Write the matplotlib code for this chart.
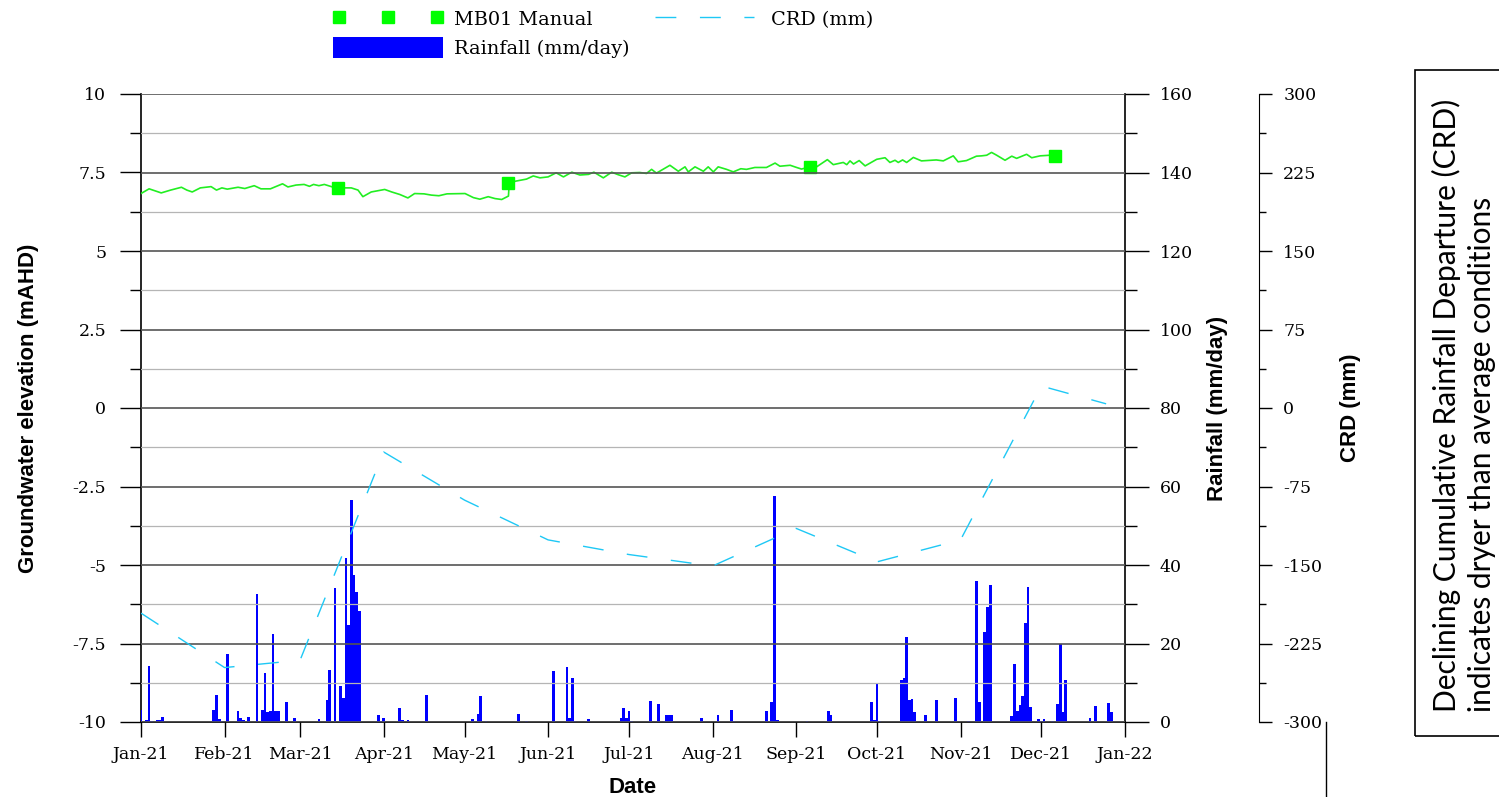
import numpy as np
import pandas as pd
import matplotlib
matplotlib.use('Agg')
import matplotlib.pyplot as plt
import matplotlib.dates as mdates
from matplotlib.ticker import MultipleLocator, FuncFormatter
from matplotlib.patches import Rectangle
from matplotlib.lines import Line2D

plt.rcParams['font.family'] = 'DejaVu Serif'
plt.rcParams['axes.unicode_minus'] = False

base = pd.Timestamp('2021-01-01')

# groundwater logger (day of year offset, mAHD)
gw_day = [0, 3, 7.5, 11, 15, 17, 19, 22, 26, 28, 30, 32, 36, 38.5, 42, 44.5, 48,
          52.5, 54.5, 57.5, 60.5, 62.5, 64, 66, 68, 71, 73.7, 78, 80.5, 82.3, 85.4,
          90.4, 93, 96, 99, 101.5, 105, 107.7, 110.5, 113.5, 120.2, 123.3, 125.7,
          128.8, 131.3, 133.8, 136.3, 136.6, 139.3, 143, 145.5, 148, 151, 154, 156.7,
          159.8, 162.8, 166, 168, 171.5, 174.6, 177, 179.5, 182, 185, 187.5, 189.4,
          191.2, 196.2, 199.3, 201.8, 203, 205.5, 208.6, 210.4, 212.3, 214.1, 217.2,
          219.7, 222.5, 224.6, 227.7, 232, 235.2, 237, 240.8, 243.2, 245, 248.3,
          250.6, 254.6, 256.8, 260.5, 261.8, 263, 264.3, 266.4, 268.6, 272.9, 276,
          277.8, 279.7, 280.9, 282.5, 284, 286.5, 289.5, 295, 297.6, 301.3, 303.1,
          306.2, 309.9, 311.8, 313.7, 315.5, 317.4, 320.5, 323, 324.8, 328.5, 330.4,
          333.5, 337.2]
gw_level = [6.83, 6.98, 6.85, 6.94, 7.03, 6.94, 6.88, 7.01, 7.05, 6.94, 7.01, 6.97,
            7.03, 6.99, 7.08, 6.98, 6.98, 7.14, 7.04, 7.10, 7.12, 7.06, 7.12, 7.08,
            7.12, 7.04, 7.01, 7.01, 6.94, 6.73, 6.88, 6.96, 6.88, 6.80, 6.69, 6.83,
            6.82, 6.78, 6.76, 6.82, 6.83, 6.70, 6.65, 6.73, 6.67, 6.64, 6.75, 7.18,
            7.23, 7.29, 7.39, 7.33, 7.36, 7.49, 7.36, 7.51, 7.42, 7.44, 7.51, 7.33,
            7.51, 7.43, 7.36, 7.49, 7.50, 7.47, 7.60, 7.48, 7.73, 7.54, 7.68, 7.52,
            7.68, 7.54, 7.68, 7.52, 7.68, 7.60, 7.52, 7.62, 7.60, 7.66, 7.66, 7.80,
            7.70, 7.73, 7.66, 7.61, 7.68, 7.68, 7.91, 7.75, 7.82, 7.75, 7.87, 7.77,
            7.88, 7.71, 7.92, 7.97, 7.82, 7.89, 7.82, 7.90, 7.82, 7.98, 7.87, 7.90,
            7.87, 8.03, 7.84, 7.88, 8.02, 8.03, 8.05, 8.14, 8.05, 7.89, 8.02, 7.95,
            8.08, 7.97, 8.03, 8.05]

# manual readings
man_date = ['2021-03-15', '2021-05-17', '2021-09-06', '2021-12-06']
man_level = [7.01, 7.18, 7.68, 8.02]

# daily rainfall (day of year offset, mm/day)
rain_day = [0, 2, 3, 4, 6, 7, 8, 27, 28, 29, 30, 32, 36, 37, 38, 40, 43, 45, 46, 47,
            48, 49, 50, 51, 54, 57, 66, 69, 70, 72, 74, 75, 76, 77, 78, 79, 80, 81,
            88, 89, 90, 96, 97, 99, 106, 123, 125, 126, 128, 140, 143, 153, 158, 159,
            160, 161, 166, 178, 179, 180, 181, 182, 189, 192, 194, 195, 196, 197, 208,
            214, 219, 220, 232, 234, 235, 236, 247, 255, 256, 271, 272, 273, 274, 282,
            283, 284, 285, 286, 287, 291, 295, 302, 307, 310, 311, 313, 314, 315, 323,
            324, 325, 326, 327, 328, 329, 330, 333, 334, 335, 338, 340, 341, 342, 343,
            352, 354, 359, 360]
rain_mm = [3.0, 0.4, 14.2, 0.3, 0.4, 0.4, 1.4, 3.0, 7.0, 0.8, 0.3, 17.2, 2.7, 1.0,
           0.4, 1.4, 32.5, 3.0, 12.5, 2.5, 2.8, 22.3, 2.8, 2.8, 5.0, 0.9, 0.7, 5.5,
           13.2, 34.1, 9.1, 6.0, 41.7, 24.6, 56.6, 37.4, 33.0, 28.2, 1.7, 0.3, 0.9,
           3.5, 0.4, 0.4, 7.0, 0.85, 2.1, 6.7, 0.3, 2.1, 0.3, 13.1, 14.1, 1.1, 11.3,
           0.3, 0.85, 1.1, 3.65, 1.1, 2.9, 0.3, 5.4, 4.7, 0.3, 1.9, 1.9, 1.9, 1.1,
           1.9, 3.1, 0.3, 2.9, 5.2, 57.6, 0.6, 0.3, 2.9, 1.9, 5.2, 0.6, 9.8, 0.3,
           10.8, 11.3, 21.7, 5.7, 5.9, 2.6, 1.9, 5.7, 6.2, 0.3, 35.8, 5.2, 23.0, 29.4,
           35.0, 1.6, 14.9, 2.9, 4.4, 6.7, 25.1, 34.5, 3.9, 0.85, 0.3, 0.85, 0.3, 4.7,
           20.0, 2.6, 10.8, 1.1, 4.2, 4.9, 2.6]

# cumulative rainfall departure
crd_date = ['2021-01-01', '2021-02-01', '2021-03-01', '2021-04-01', '2021-05-01',
            '2021-06-01', '2021-07-01', '2021-08-01', '2021-09-01', '2021-10-01',
            '2021-11-01', '2021-12-01', '2021-12-25']
crd_mm = [-196, -248, -241, -42, -88, -126, -140, -151, -115, -147, -126, 21, 4]

gw_dates = base + pd.to_timedelta(gw_day, unit='D')
rain_dates = base + pd.to_timedelta(rain_day, unit='D')

W, H = 1499, 797
fig = plt.figure(figsize=(W / 100, H / 100), dpi=100)
ax = fig.add_axes([141 / W, 75 / H, 984 / W, 628 / H])

lab_font = dict(family='Liberation Sans', weight='bold', size=16)

# groundwater
ax.plot(gw_dates, gw_level, color='#22ee22', lw=1.2, zorder=3)
man, = ax.plot(pd.to_datetime(man_date), man_level, 's', color='#00ff00',
               ms=8.6, zorder=4, label='MB01 Manual')
ax.set_ylim(-10, 10)
ax.yaxis.set_major_locator(MultipleLocator(2.5))
ax.yaxis.set_minor_locator(MultipleLocator(1.25))
ax.yaxis.set_major_formatter(FuncFormatter(lambda v, p: '{:g}'.format(v)))
ax.set_xlim(base, pd.Timestamp('2022-01-01'))
ax.xaxis.set_major_locator(mdates.MonthLocator())
ax.xaxis.set_major_formatter(mdates.DateFormatter('%b-%y'))
ax.tick_params(axis='y', which='major', length=15, width=1, pad=10, labelsize=12.5)
ax.tick_params(axis='y', which='minor', length=8, width=1)
ax.tick_params(axis='x', length=11, width=1, pad=6.5, labelsize=12.5)
ax.spines['top'].set_visible(False)
ax.spines['right'].set_visible(False)
ax.spines['left'].set_linewidth(1.2)
ax.spines['bottom'].set_linewidth(1.2)
ax.set_ylabel('Groundwater elevation (mAHD)', fontdict=lab_font)
ax.yaxis.set_label_coords(-0.1037, 0.5)
ax.set_xlabel('Date', fontdict=lab_font)
ax.xaxis.set_label_coords(0.5, -0.0870)

# rainfall
ax2 = ax.twinx()
bars = ax2.bar(rain_dates, rain_mm, width=1.0, color='#0000ff', lw=0,
               label='Rainfall (mm/day)')
ax2.set_ylim(0, 160)
ax2.yaxis.set_major_locator(MultipleLocator(20))
ax2.yaxis.set_minor_locator(MultipleLocator(10))
ax2.set_axisbelow(False)
ax2.grid(which='major', axis='y', color='#555555', lw=1.2)
ax2.grid(which='minor', axis='y', color='#b5b5b5', lw=0.9)
ax2.tick_params(axis='y', which='major', length=17, width=1, pad=8, labelsize=12.5)
ax2.tick_params(axis='y', which='minor', length=8.6, width=1)
for s in ['top', 'left', 'bottom']:
    ax2.spines[s].set_visible(False)
ax2.spines['right'].set_linewidth(1.2)
ax2.set_ylabel('Rainfall (mm/day)', fontdict=lab_font)
ax2.yaxis.set_label_coords(1.0833, 0.5)

# CRD
ax3 = ax.twinx()
ax3.spines['right'].set_position(('axes', 1.1362))
crd, = ax3.plot(pd.to_datetime(crd_date), crd_mm, color='#1ec8f5', lw=1.0,
                dashes=(15, 17), label='CRD (mm)', zorder=5)
ax3.set_ylim(-300, 300)
ax3.yaxis.set_major_locator(MultipleLocator(75))
ax3.yaxis.set_minor_locator(MultipleLocator(37.5))
ax3.yaxis.set_major_formatter(FuncFormatter(lambda v, p: '{:g}'.format(v)))
ax3.tick_params(axis='y', which='major', length=9.4, width=1, pad=8, labelsize=12.5)
ax3.tick_params(axis='y', which='minor', length=5, width=1)
for s in ['top', 'left', 'bottom']:
    ax3.spines[s].set_visible(False)
ax3.set_ylabel('CRD (mm)', fontdict=lab_font)
ax3.yaxis.set_label_coords(1.2185, 0.5)

fig.legend([man, bars, crd], ['MB01 Manual', 'Rainfall (mm/day)', 'CRD (mm)'],
           loc='upper left', bbox_to_anchor=(333 / W, 1 - 8.5 / H), ncol=2,
           frameon=False, numpoints=3, handlelength=5.7, handleheight=1.3,
           handletextpad=0.57, columnspacing=1.04, labelspacing=0.4, borderpad=0,
           borderaxespad=0, prop={'family': 'DejaVu Serif', 'size': 13.9})

# stray tick line under CRD axis
fig.add_artist(Line2D([1326 / W, 1326 / W], [0, 75 / H], transform=fig.transFigure,
                      color='black', lw=1))

# note box on the right
fig.add_artist(Rectangle((1415 / W, 61 / H), 0.1, 666 / H, transform=fig.transFigure,
                         fill=False, ec='black', lw=1.2))
fig.text(1446 / W, 85 / H, 'Declining Cumulative Rainfall Departure (CRD)',
         rotation=90, ha='center', va='bottom', family='Lato', size=21.5)
fig.text(1482 / W, 85 / H, 'indicates dryer than average conditions',
         rotation=90, ha='center', va='bottom', family='Lato', size=21.5)

fig.savefig('out.png', dpi=100)
